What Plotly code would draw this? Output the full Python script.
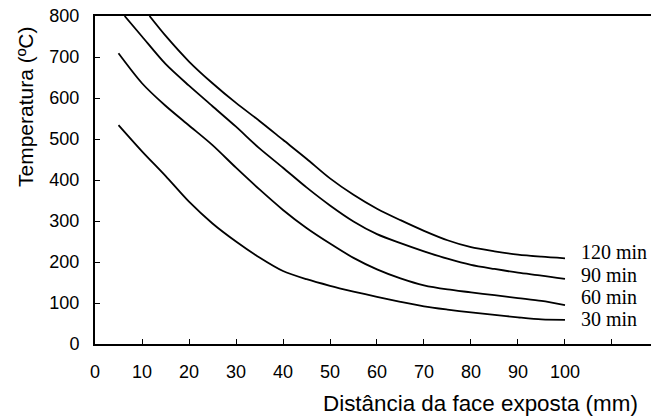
import plotly.graph_objects as go

# Distance from exposed face (mm) and temperature (ºC)
x30 = [5, 10, 15, 20, 25, 30, 35, 40, 45, 50, 55, 60, 65, 70, 75, 80, 85, 90, 95, 100]
t30 = [534, 470, 410, 347, 294, 250, 211, 178, 158, 142, 128, 115, 103, 92, 84, 77, 71, 65, 60, 59]

x60 = [5, 10, 15, 20, 25, 30, 35, 40, 45, 50, 55, 60, 65, 70, 75, 80, 85, 90, 95, 100]
t60 = [709, 636, 581, 533, 485, 430, 377, 327, 283, 245, 210, 182, 160, 143, 133, 126, 119, 112, 105, 95]

x90 = [6.3, 10, 15, 20, 25, 30, 35, 40, 45, 50, 55, 60, 65, 70, 75, 80, 85, 90, 95, 100]
t90 = [800, 750, 683, 630, 580, 530, 477, 430, 382, 338, 299, 268, 246, 226, 208, 193, 183, 174, 167, 159]

x120 = [11.6, 15, 20, 25, 30, 35, 40, 45, 50, 55, 60, 65, 70, 75, 80, 85, 90, 95, 100]
t120 = [800, 752, 689, 636, 588, 544, 498, 452, 404, 364, 330, 302, 276, 253, 236, 226, 218, 213, 209]

series_labels = ["30 min", "60 min", "90 min", "120 min"]
label_y = [61, 115, 168, 224]

x_tickvals = [0, 10, 20, 30, 40, 50, 60, 70, 80, 90, 100, 110]
x_ticktext = ["0", "10", "20", "30", "40", "50", "60", "70", "80", "90", "100", ""]
y_tickvals = [0, 100, 200, 300, 400, 500, 600, 700, 800]

fig = go.Figure()
for xs, ts, name in [(x30, t30, "30 min"), (x60, t60, "60 min"), (x90, t90, "90 min"), (x120, t120, "120 min")]:
    fig.add_trace(go.Scatter(x=xs, y=ts, mode="lines", name=name,
                             line=dict(color="black", width=1.8, shape="spline", smoothing=0.8),
                             showlegend=False))

for lab, ly in zip(series_labels, label_y):
    fig.add_annotation(x=102.9, y=ly, xref="x", yref="y", text=lab, showarrow=False,
                       xanchor="left", yanchor="middle",
                       font=dict(family="Liberation Serif", size=20, color="black"))

fig.add_annotation(x=-0.124, y=0.7226, xref="paper", yref="paper", text="Temperatura (ºC)",
                   showarrow=False, textangle=-90, xanchor="center", yanchor="middle",
                   font=dict(family="Liberation Sans", size=21, color="black"))
fig.add_annotation(x=0.6925, y=-0.18, xref="paper", yref="paper", text="Distância da face exposta (mm)",
                   showarrow=False, xanchor="center", yanchor="middle",
                   font=dict(family="Liberation Sans", size=22.4, color="black"))

fig.update_layout(
    width=651, height=420,
    margin=dict(l=95, r=0, t=16, b=76),
    plot_bgcolor="white", paper_bgcolor="white",
    font=dict(family="Liberation Sans", size=18, color="black"),
)
fig.update_xaxes(range=[0, 118.3], tickvals=x_tickvals, ticktext=x_ticktext,
                 showline=True, linecolor="black", linewidth=2, mirror=True,
                 ticks="inside", ticklen=5, tickwidth=1, tickcolor="black",
                 showgrid=False, zeroline=False, ticklabelstandoff=10)
fig.update_yaxes(range=[0, 800], tickvals=y_tickvals,
                 showline=True, linecolor="black", linewidth=2,
                 ticks="inside", ticklen=5, tickwidth=1, tickcolor="black",
                 showgrid=False, zeroline=False, ticklabelstandoff=10)

fig.write_html("out.html", config={"displayModeBar": False},
               post_script="document.body.style.margin='0';document.body.style.overflow='hidden';")
